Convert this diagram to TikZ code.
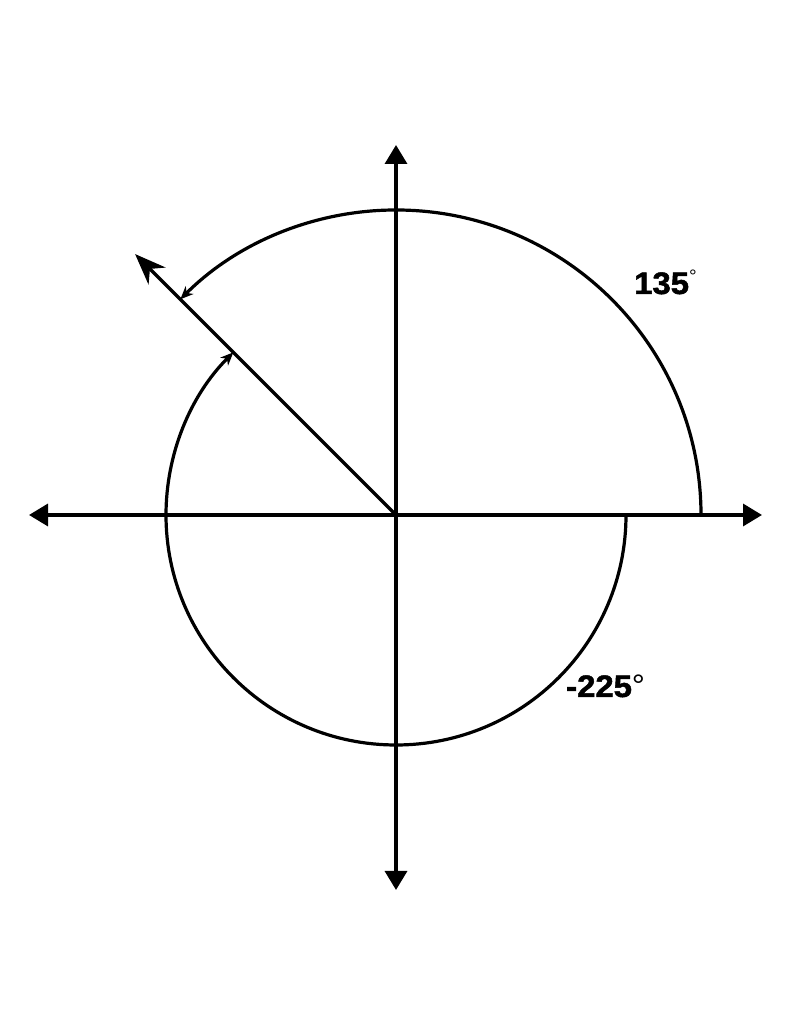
\documentclass[tikz,border=0pt]{standalone}
\usepackage{fontspec}
\setmainfont{Liberation Sans}
\newfontfamily\heavyfont[FakeBold=1.6]{Liberation Sans Bold}
\usetikzlibrary{arrows.meta,calc}
\begin{document}
\begin{tikzpicture}[x=1pt,y=1pt,
  axis/.style={line width=3.4pt,{Triangle[length=19pt,width=22pt]}-{Triangle[length=19pt,width=22pt]}},
  ray/.style={line width=3.4pt,-{Stealth[length=31pt,width=24pt,inset=10pt]}},
  arcline/.style={line width=3.2pt,-{Stealth[length=13pt,width=11pt,inset=4pt]}},
  lbl/.style={font=\fontsize{31}{31}\heavyfont,inner sep=0pt,xscale=1.06}]
\useasboundingbox (0,0) rectangle (791,1024);
\coordinate (O) at (396,509);
\coordinate (L) at (29,509);
\coordinate (R) at (762,509);
\coordinate (B) at (396,134);
\coordinate (T) at (396,879);
\coordinate (P) at ($(O)+(135:369)$);
\draw[axis] (L) -- (R);
\draw[axis] (B) -- (T);
\draw[ray] (O) -- (P);
\draw[arcline] ($(O)+(0:305)$) arc[start angle=0,end angle=135,radius=305];
\draw[arcline] ($(O)+(0:230)$) arc[start angle=0,end angle=-225,radius=230];
\node[lbl,anchor=base west] (a135) at (634,730) {135\raisebox{11pt}{\fontsize{18}{18}\selectfont\rmfamily °}};
\node[lbl,anchor=base west] (a225) at (566,327) {-225\raisebox{0pt}{\rmfamily °}};
\end{tikzpicture}
\end{document}
